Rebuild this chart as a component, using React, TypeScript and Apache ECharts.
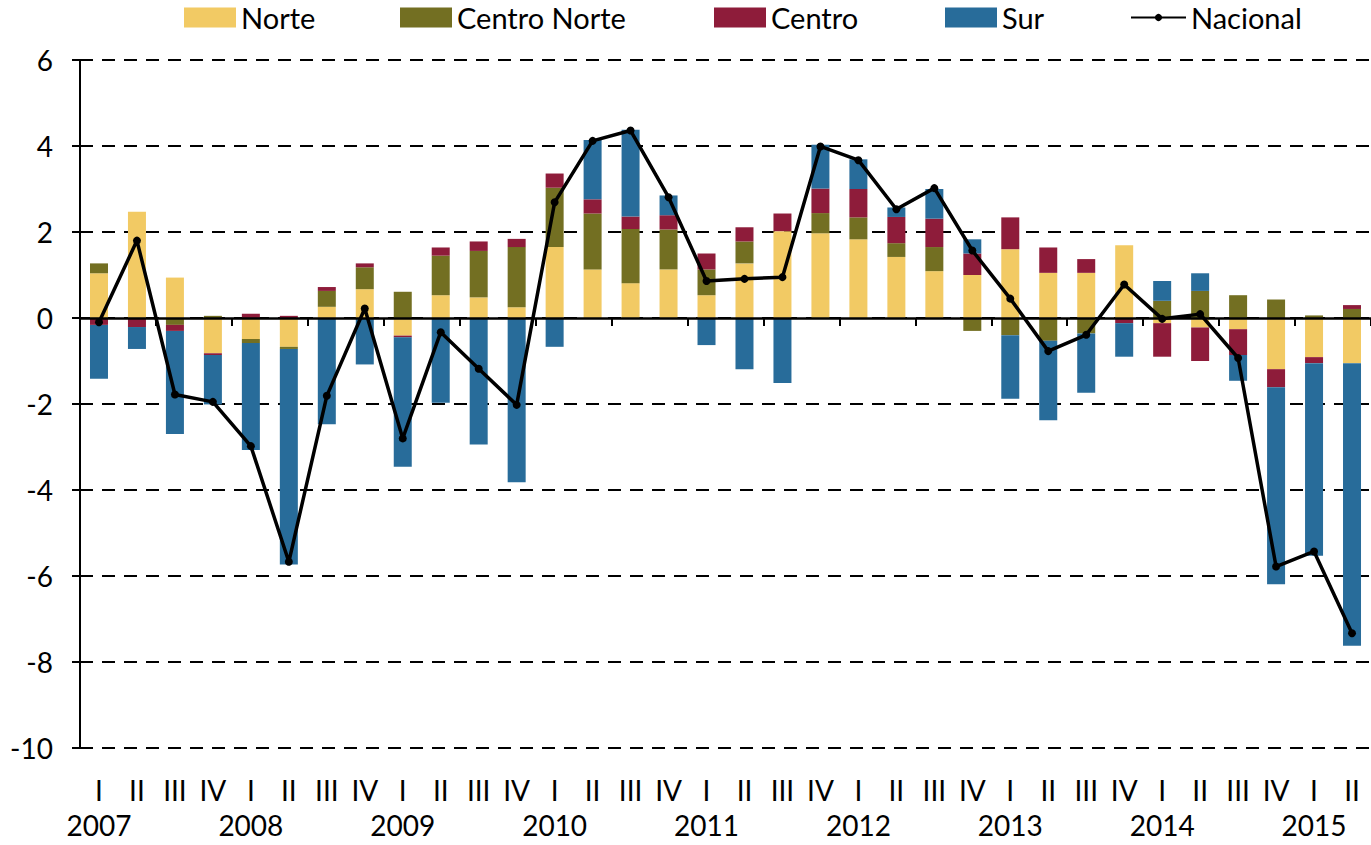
import React, { useEffect, useRef } from "react";
import * as echarts from "echarts";

const years = ["2007", "2008", "2009", "2010", "2011", "2012", "2013", "2014", "2015"];
const quarters = ["I", "II", "III", "IV"];
const categories: string[] = [];
years.forEach((y) => quarters.forEach((q) => categories.push(`${y}-${q}`)));
categories.splice(34);

const norte = [1.04, 2.47, 0.94, -0.82, -0.49, -0.67, 0.26, 0.67, -0.41, 0.53, 0.48, 0.25, 1.65, 1.13, 0.81, 1.13, 0.53, 1.27, 2.02, 1.97, 1.83, 1.42, 1.09, 1.0, 1.6, 1.05, 1.05, 1.69, -0.12, -0.22, -0.26, -1.19, -0.91, -1.05];
const centroNorte = [0.23, 0, -0.16, 0.05, -0.09, -0.05, 0.37, 0.51, 0.61, 0.92, 1.08, 1.4, 1.38, 1.3, 1.26, 0.93, 0.6, 0.51, 0, 0.47, 0.51, 0.32, 0.56, -0.3, -0.4, -0.53, -0.36, 0, 0.4, 0.63, 0.53, 0.43, 0.06, 0.21];
const centro = [-0.16, -0.21, -0.14, -0.04, 0.1, 0.05, 0.09, 0.09, -0.04, 0.19, 0.22, 0.19, 0.33, 0.33, 0.29, 0.33, 0.37, 0.33, 0.41, 0.57, 0.66, 0.61, 0.66, 0.5, 0.74, 0.59, 0.32, -0.12, -0.78, -0.78, -0.6, -0.42, -0.14, 0.09];
const sur = [-1.25, -0.51, -2.4, -1.15, -2.49, -5.01, -2.47, -1.08, -3.01, -1.97, -2.94, -3.82, -0.67, 1.38, 2.02, 0.46, -0.63, -1.19, -1.51, 1.02, 0.69, 0.22, 0.69, 0.33, -1.48, -1.85, -1.38, -0.78, 0.46, 0.41, -0.6, -4.58, -4.48, -6.57];
const nacional = [-0.1, 1.8, -1.78, -1.95, -2.98, -5.67, -1.81, 0.22, -2.8, -0.33, -1.18, -2.02, 2.69, 4.12, 4.36, 2.81, 0.86, 0.91, 0.95, 3.99, 3.67, 2.53, 3.02, 1.57, 0.45, -0.77, -0.39, 0.78, -0.02, 0.09, -0.93, -5.78, -5.43, -7.33];

const FONT = "Lato";
const FS = 28;
const LEGEND_FS = 29;

export default function App() {
  const ref = useRef<HTMLDivElement>(null);
  useEffect(() => {
    if (!ref.current) return;
    const chart = echarts.init(ref.current, undefined, { renderer: "svg" });
    const legendBase = {
      top: 3,
      padding: 0,
      itemWidth: 52,
      itemHeight: 20,
      itemGap: 0,
      textStyle: { fontFamily: FONT, fontSize: LEGEND_FS, color: "#000" },
    };
    const barSeries = (name: string, data: number[], color: string) => ({
      name,
      type: "bar",
      stack: "total",
      xAxisIndex: 0,
      data,
      barWidth: 18,
      itemStyle: { color },
    });
    chart.setOption({
      animation: false,
      textStyle: { fontFamily: FONT },
      legend: [
        { ...legendBase, left: 184, data: [{ name: "Norte", icon: "rect" }] },
        { ...legendBase, left: 400, data: [{ name: "Centro Norte", icon: "rect" }] },
        { ...legendBase, left: 714, data: [{ name: "Centro", icon: "rect" }] },
        { ...legendBase, left: 945, data: [{ name: "Sur", icon: "rect" }] },
        { ...legendBase, top: 3, left: 1130, itemWidth: 55, itemHeight: 9, data: [{ name: "Nacional" }] },
      ],
      grid: { left: 80, top: 60, bottom: 97, right: -8, containLabel: false },
      xAxis: [
        {
          type: "category",
          data: categories,
          position: "bottom",
          axisLine: { show: false, onZero: false },
          axisTick: { show: false },
          axisLabel: {
            interval: 0,
            margin: 24,
            fontFamily: FONT,
            fontSize: FS,
            color: "#000",
            lineHeight: 35,
            formatter: (v: string) => {
              const [y, q] = v.split("-");
              return q === "I" ? `${q}\n${y}` : q;
            },
          },
        },
        {
          type: "category",
          data: categories,
          position: "bottom",
          z: 10,
          axisLine: { show: true, onZero: true, lineStyle: { color: "#000", width: 2.5 } },
          axisTick: { show: true, length: 8, lineStyle: { color: "#000", width: 2 } },
          axisLabel: { show: false },
        },
      ],
      yAxis: {
        type: "value",
        min: -10,
        max: 6,
        interval: 2,
        axisLine: { show: true, lineStyle: { color: "#000", width: 2 } },
        axisTick: { show: true, length: 8, lineStyle: { color: "#000", width: 2 } },
        axisLabel: { margin: 27, fontFamily: FONT, fontSize: FS, color: "#000" },
        splitLine: { show: true, lineStyle: { color: "#000", width: 2, type: [13, 9] } },
      },
      series: [
        barSeries("Norte", norte, "#F2CA64"),
        barSeries("Centro Norte", centroNorte, "#736F22"),
        barSeries("Centro", centro, "#8E1C3A"),
        barSeries("Sur", sur, "#286C9A"),
        {
          name: "Nacional",
          type: "line",
          xAxisIndex: 0,
          data: nacional,
          z: 20,
          symbol: "circle",
          symbolSize: 8,
          lineStyle: { color: "#000", width: 3.5 },
          itemStyle: { color: "#000" },
        },
      ],
    });
    return () => chart.dispose();
  }, []);
  return (
    <div
      ref={ref}
      style={{ position: "fixed", left: 0, top: 0, width: 1371, height: 845, background: "#fff" }}
    />
  );
}
